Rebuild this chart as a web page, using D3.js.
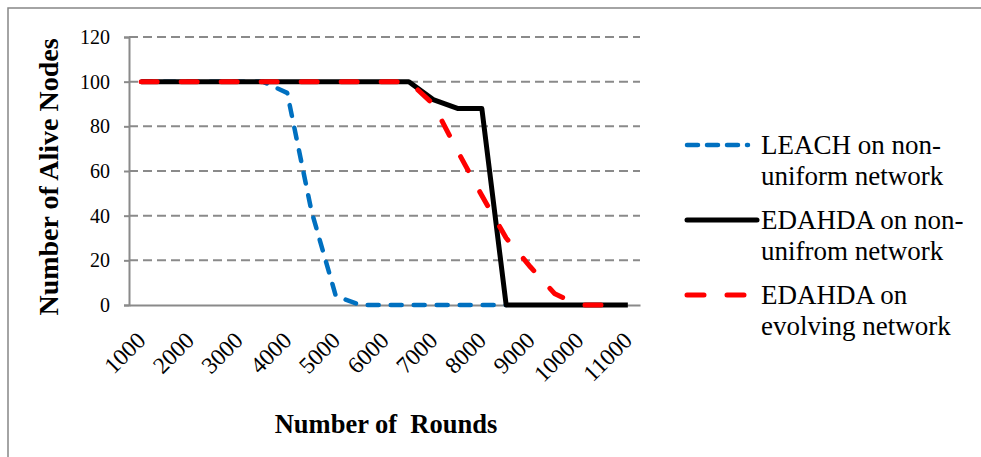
<!DOCTYPE html>
<html>
<head>
<meta charset="utf-8">
<script src="https://cdn.jsdelivr.net/npm/d3@7"></script>
<style>
  body { margin: 0; background: #fff; }
</style>
</head>
<body>
<svg id="chart"></svg>
<script>
// Chart data
var rounds = ["1000","1500","2000","2500","3000","3500","4000","4500","5000","5500","6000",
              "6500","7000","7500","8000","8500","9000","9500","10000","10500","11000"];
var roundLabels = ["1000","2000","3000","4000","5000","6000","7000","8000","9000","10000","11000"];
var yTicks = [0, 20, 40, 60, 80, 100, 120];

var leachNonUniform   = [100,100,100,100,100,100,95,42,4,0,0,0,0,0,0,0];
var edahdaNonUniform  = [100,100,100,100,100,100,100,100,100,100,100,100,92,88,88,0,0,0,0,0,0];
var edahdaEvolving    = [100,100,100,100,100,100,100,100,100,100,100,100,90,69,49,30,17,5,0,0];

var seriesNames = ["LEACH on non-|uniform network", "EDAHDA on non-|unifrom network", "EDAHDA on|evolving network"];

var serif = "Liberation Serif";

// Canvas
const W = 981, H = 457;
var svg = d3.select("#chart").attr("width", W).attr("height", H);

// outer chart border
svg.append("path")
    .attr("d", "M8,457 L8,8 L981,8")
    .attr("fill", "none")
    .attr("stroke", "#878787")
    .attr("stroke-width", 1.5);

// Scales
var xScale = d3.scaleBand().domain(rounds).range([129, 640]);
var xc = function(d) { return xScale(d) + xScale.bandwidth() / 2; };
var yScale = d3.scaleLinear().domain([0, 120]).range([305, 37]);

// Gridlines
svg.append("g").selectAll("line")
    .data(yTicks.filter(function(d) { return d > 0; }))
    .enter().append("line")
    .attr("x1", 129).attr("x2", 640)
    .attr("y1", function(d) { return yScale(d); })
    .attr("y2", function(d) { return yScale(d); })
    .attr("stroke", "#8a8a8a")
    .attr("stroke-width", 2)
    .attr("stroke-dasharray", "9,5");

// Y axis
var yAxis = svg.append("g")
    .attr("transform", "translate(129,0)")
    .call(d3.axisLeft(yScale).tickValues(yTicks).tickSize(5).tickPadding(14));
yAxis.attr("font-family", serif).attr("font-size", 20);
yAxis.select(".domain").attr("stroke", "#8a8a8a").attr("stroke-width", 2);
yAxis.selectAll(".tick line").attr("stroke", "#8a8a8a").attr("stroke-width", 2);
yAxis.selectAll(".tick text").attr("fill", "#000");

// X axis
var xAxis = svg.append("g")
    .attr("transform", "translate(0,305)")
    .call(d3.axisBottom(xScale).tickValues(roundLabels).tickSize(0).tickFormat(function(d) { return d; }));
xAxis.attr("font-family", serif).attr("font-size", 23.5);
xAxis.select(".domain").attr("stroke", "#8a8a8a").attr("stroke-width", 2);
xAxis.selectAll(".tick text")
    .attr("fill", "#000")
    .attr("text-anchor", "end")
    .attr("y", 0).attr("dy", "0.35em")
    .attr("transform", "translate(0,31) rotate(-45)");

// Axis titles
svg.append("text")
    .attr("x", 386).attr("y", 433)
    .attr("text-anchor", "middle")
    .attr("font-family", serif)
    .attr("font-size", 26.5).attr("font-weight", "bold")
    .attr("xml:space", "preserve")
    .text("Number of  Rounds");

svg.append("text")
    .attr("transform", "translate(58,177) rotate(-90)")
    .attr("text-anchor", "middle")
    .attr("font-family", serif)
    .attr("font-size", 28).attr("font-weight", "bold")
    .text("Number of Alive Nodes");

// Lines
var line = d3.line()
    .x(function(d, i) { return xc(rounds[i]); })
    .y(function(d) { return yScale(d); });

svg.append("path")
    .attr("d", line(leachNonUniform))
    .attr("fill", "none")
    .attr("stroke", "#0070c0")
    .attr("stroke-width", 4.5)
    .attr("stroke-linecap", "round")
    .attr("stroke-linejoin", "round")
    .attr("stroke-dasharray", "11,12");

svg.append("path")
    .attr("d", line(edahdaNonUniform))
    .attr("fill", "none")
    .attr("stroke", "#000")
    .attr("stroke-width", 5)
    .attr("stroke-linejoin", "round");

svg.append("path")
    .attr("d", line(edahdaEvolving))
    .attr("fill", "none")
    .attr("stroke", "#ff0000")
    .attr("stroke-width", 5)
    .attr("stroke-linecap", "round")
    .attr("stroke-linejoin", "round")
    .attr("stroke-dasharray", "16,24");

// Legend
var legendStyles = [
  {color: "#0070c0", dash: "11,9", width: 4.5, x2: 748},
  {color: "#000", dash: null, width: 5, x2: 757},
  {color: "#ff0000", dash: "17,23", width: 5, x2: 748}
];
var legendY = [145, 220, 295];

var legend = svg.append("g").selectAll("g")
    .data(seriesNames)
    .enter().append("g")
    .attr("transform", function(d, i) { return "translate(0," + legendY[i] + ")"; });

legend.append("line")
    .attr("x1", 687).attr("x2", function(d, i) { return legendStyles[i].x2; })
    .attr("y1", 0).attr("y2", 0)
    .attr("stroke", function(d, i) { return legendStyles[i].color; })
    .attr("stroke-width", function(d, i) { return legendStyles[i].width; })
    .attr("stroke-linecap", "round")
    .attr("stroke-dasharray", function(d, i) { return legendStyles[i].dash; });

legend.append("text")
    .attr("x", 761)
    .attr("font-family", serif)
    .attr("font-size", 27)
    .attr("fill", "#000")
    .selectAll("tspan")
    .data(function(d) { return d.split("|"); })
    .enter().append("tspan")
    .attr("x", 761)
    .attr("y", function(d, j) { return j * 31.5; })
    .attr("dy", "0.33em")
    .text(function(d) { return d; });
</script>
</body>
</html>
